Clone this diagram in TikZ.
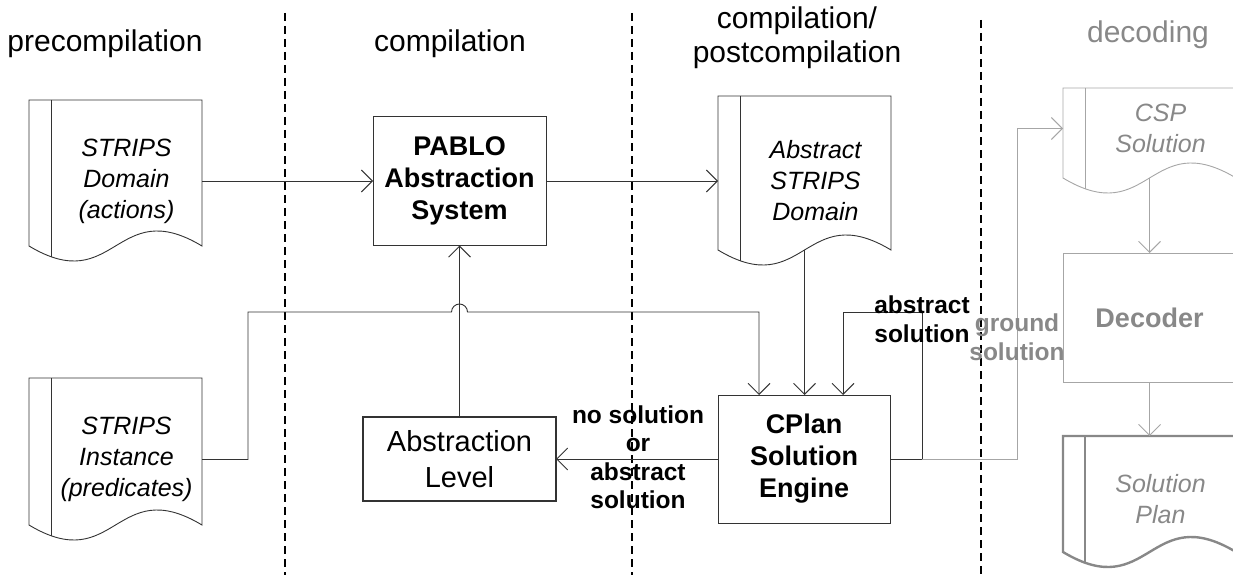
\documentclass[tikz,border=0pt]{standalone}
\usepackage{fontspec}
\setmainfont{Liberation Sans}
\usetikzlibrary{arrows.meta,calc}

\definecolor{inkdark}{HTML}{333333}
\definecolor{inkgray}{HTML}{A6A6A6}
\definecolor{txtgray}{HTML}{888888}

% Document symbol round a node that covers the text area right of the binding strip.
% #2 = node name, #3 = height (px) of the wave ends above the node's bottom edge.
\newcommand\docframe[3][]{%
  \draw[#1] ($(#2.south east)+(0,{-(#3)})$) -- (#2.north east) -- ($(#2.north west)+(-22,0)$)
    -- ($(#2.south west)+(-22,{-(#3)})$)
    .. controls ($(#2.south)+(-11,{52-(#3)})$) and ($(#2.south)+(-11,{-52-(#3)})$)
    .. ($(#2.south east)+(0,{-(#3)})$) -- cycle;
  \draw[#1] (#2.north west) -- ($(#2.south west)+(0,{11-(#3)})$);
}

\tikzset{
  x=1pt, y=-1pt,
  conn/.style={draw=inkdark, line width=0.9pt},
  arr/.style={conn, -{Straight Barb[length=11pt,width=22pt]}},
  gconn/.style={draw=inkgray, line width=0.9pt},
  garr/.style={gconn, -{Straight Barb[length=11pt,width=22pt]}},
  phase/.style={draw=black, line width=1.8pt, dash pattern=on 8pt off 5pt},
  docnode/.style={rectangle, inner sep=0pt, outer sep=0pt, minimum width=151,
    align=center, font=\itshape\fontsize{25}{31}\selectfont},
  docline/.style={draw=inkdark, line width=0.9pt},
  gdocline/.style={draw=inkgray, line width=0.9pt},
  plandocline/.style={draw=txtgray, line width=2.4pt},
  box/.style={rectangle, draw=inkdark, line width=0.9pt, inner sep=0pt, outer sep=0pt,
    align=center, font=\bfseries\fontsize{27}{32}\selectfont},
  gbox/.style={box, draw=inkgray, text=txtgray},
  lbl/.style={inner sep=0pt, align=center, font=\bfseries\fontsize{24.5}{28.5}\selectfont},
  title/.style={inner sep=0pt, align=center, font=\fontsize{30}{34}\selectfont},
}

\begin{document}
\begin{tikzpicture}
\useasboundingbox (0,0) rectangle (1233,575);

% phase separators
\draw[phase] (285,13) -- (285,575);
\draw[phase] (632,13) -- (632,575);
\draw[phase] (981,20) -- (981,575);

% phase titles
\node[title, anchor=base] (tpre) at (105,52) {precompilation};
\node[title, anchor=base] (tcomp) at (450,52) {compilation};
\node[title] (tpost) at (797,38) {compilation/\\postcompilation};
\node[title, anchor=base, text=txtgray] (tdec) at (1148,43) {decoding};

% documents
\node[docnode] (dom) at (126.5,181) [minimum height=162] {STRIPS\\Domain\\(actions)};
\docframe[docline]{dom}{16}
\node[docnode] (inst) at (126.5,459.5) [minimum height=163] {STRIPS\\Instance\\(predicates)};
\docframe[docline]{inst}{16}
\node[docnode] (adom) at (815.5,181) [minimum height=170] {Abstract\\STRIPS\\Domain};
\docframe[docline]{adom}{16}
\node[docnode, text=txtgray] (csp) at (1160.5,128.5) [minimum height=81] {CSP\\Solution};
\docframe[gdocline]{csp}{-9}
\node[docnode, text=txtgray] (plan) at (1160.5,499) [minimum height=126] {Solution\\Plan};
\docframe[plandocline]{plan}{10}

% process boxes
\node[box, minimum width=173, minimum height=129] (pablo) at (459.5,181) {PABLO\\Abstraction\\System};
\node[box, minimum width=172, minimum height=128] (cplan) at (804,459) {CPlan\\Solution\\Engine};
\node[box, line width=1.8pt, minimum width=193, minimum height=84,
  font=\fontsize{29}{36}\selectfont] (level) at (459.5,459) {Abstraction\\Level};
\node[gbox, minimum width=173, minimum height=129] (dec) at (1149.5,317.5) {Decoder};

% connector helper points
\coordinate (adomin) at ($(adom.west)+(-22,0)$);
\coordinate (adomw) at ($(adom.south)+(-11,-16)$);
\coordinate (busL) at (248,312);
\coordinate (hop) at (pablo.south |- busL);
\coordinate (inL) at ($(cplan.north)+(-45,0)$);
\coordinate (inR) at ($(cplan.north)+(39,0)$);
\coordinate (loopR) at (922,312);
\coordinate (split) at (loopR |- cplan.east);
\coordinate (gup) at (1017,0);
\coordinate (cspin) at ($(csp.west)+(-22,0)$);
\coordinate (cspw) at ($(csp.south)+(-11,9)$);

% connectors
\draw[arr] (dom.east) -- (pablo.west);
\draw[arr] (pablo.east) -- (adomin);
\draw[arr] (adomw) -- (adomw |- cplan.north);
\draw[arr] (inst.east) -| (busL) -- ($(hop)+(-8,0)$)
  arc[start angle=180, end angle=0, radius=8pt] -- (inL |- busL) -- (inL);
\draw[arr] (cplan.east) -| (loopR) -| (inR);
\draw[arr] (cplan.west) -- (level.east);
\draw[arr] (level.north) -- (pablo.south);
\draw[garr] (split) -| (gup |- cspin) -- (cspin);
\draw[garr] (cspw) -- (dec.north);
\draw[garr] (dec.south) -- (dec.south |- plan.north);

% connector labels
\node[lbl] (labsol) at (922,319) {abstract\\solution};
\node[lbl] (labno) at (638,457) {no solution\\or\\abstract\\solution};
\node[lbl, text=txtgray] (labground) at (1017,337) {ground\\solution};
\end{tikzpicture}
\end{document}
